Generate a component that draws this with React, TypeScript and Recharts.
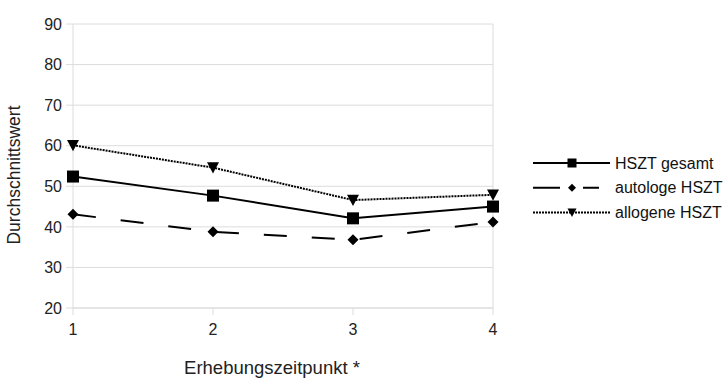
import { LineChart, Line, XAxis, YAxis, CartesianGrid, ReferenceLine } from "recharts";

const timepoints = [1, 2, 3, 4];
const gesamt = [52.4, 47.7, 42.1, 45.0];
const autologe = [43.1, 38.8, 36.8, 41.2];
const allogene = [60.1, 54.6, 46.6, 47.9];
const yTicks = [20, 30, 40, 50, 60, 70, 80, 90];

const seriesNames = ["HSZT gesamt", "autologe HSZT", "allogene HSZT"];

const data = timepoints.map((t, i) => ({
  t,
  gesamt: gesamt[i],
  autologe: autologe[i],
  allogene: allogene[i],
}));

const FONT = "'Liberation Sans', Arial, sans-serif";

type Shape = "square" | "diamond" | "triangle";

function marker(shape: Shape, cx: number, cy: number, s: number, key?: string) {
  if (shape === "square")
    return <rect key={key} x={cx - s / 2} y={cy - s / 2} width={s} height={s} fill="#000" />;
  if (shape === "diamond")
    return (
      <polygon
        key={key}
        points={`${cx},${cy - s / 2} ${cx + s / 2},${cy} ${cx},${cy + s / 2} ${cx - s / 2},${cy}`}
        fill="#000"
      />
    );
  return (
    <polygon
      key={key}
      points={`${cx - s / 2},${cy - s * 0.45} ${cx + s / 2},${cy - s * 0.45} ${cx},${cy + s * 0.5}`}
      fill="#000"
    />
  );
}

const dotFor = (shape: Shape, size: number) => (p: any) =>
  marker(shape, p.cx, p.cy, size, `${shape}-${p.index}`);

const legendItems: { name: string; shape: Shape; dash?: string; size: number }[] = [
  { name: seriesNames[0], shape: "square", size: 9 },
  { name: seriesNames[1], shape: "diamond", dash: "27 12", size: 8 },
  { name: seriesNames[2], shape: "triangle", dash: "2 1", size: 9 },
];

function MyLegend() {
  return (
    <svg width={195} height={80} style={{ position: "absolute", left: 533, top: 153 }}>
      {legendItems.map((it, i) => {
        const y = 10 + i * 24.8;
        return (
          <g key={it.name}>
            <line x1={0} x2={77} y1={y} y2={y} stroke="#000" strokeWidth={2} strokeDasharray={it.dash} />
            {it.shape === "diamond" && <rect x={27} y={y - 6} width={23} height={12} fill="#fff" />}
            {marker(it.shape, 39, y, it.size)}
            <text x={82} y={y} dy="0.355em" fontFamily={FONT} fontSize={16} fill="#111">
              {it.name}
            </text>
          </g>
        );
      })}
    </svg>
  );
}

export default function App() {
  return (
    <div style={{ position: "absolute", left: 0, top: 0, width: 728, height: 390, background: "#fff" }}>
      <LineChart width={728} height={390} data={data} margin={{ top: 24, right: 235, bottom: 52, left: 13 }}>
        <CartesianGrid vertical={false} stroke="#dcdcdc" strokeWidth={1} />
        <ReferenceLine x={4} stroke="#dcdcdc" strokeWidth={1} />
        <XAxis
          dataKey="t"
          type="number"
          domain={[1, 4]}
          ticks={timepoints}
          height={30}
          axisLine={{ stroke: "#dcdcdc" }}
          tickLine={{ stroke: "#dcdcdc" }}
          tickSize={7}
          tickMargin={9}
          tick={{ fontFamily: FONT, fontSize: 16, fill: "#222" }}
        />
        <YAxis
          type="number"
          domain={[20, 90]}
          ticks={yTicks}
          width={60}
          interval={0}
          axisLine={{ stroke: "#dcdcdc" }}
          tickLine={{ stroke: "#dcdcdc" }}
          tickSize={7}
          tickMargin={4}
          tick={{ fontFamily: FONT, fontSize: 16, fill: "#222" }}
        />
        <Line
          dataKey="allogene"
          name={seriesNames[2]}
          stroke="#000"
          strokeWidth={2}
          strokeDasharray="2 1"
          dot={dotFor("triangle", 12)}
          isAnimationActive={false}
        />
        <Line
          dataKey="autologe"
          name={seriesNames[1]}
          stroke="#000"
          strokeWidth={2}
          strokeDasharray="23 25"
          dot={dotFor("diamond", 11)}
          isAnimationActive={false}
        />
        <Line
          dataKey="gesamt"
          name={seriesNames[0]}
          stroke="#000"
          strokeWidth={2}
          dot={dotFor("square", 12)}
          isAnimationActive={false}
        />
      </LineChart>
      <svg width={728} height={390} style={{ position: "absolute", left: 0, top: 0, pointerEvents: "none" }}>
        <text x={272} y={374} textAnchor="middle" fontFamily={FONT} fontSize={18.5} fill="#222">
          Erhebungszeitpunkt *
        </text>
        <text
          x={20}
          y={175}
          textAnchor="middle"
          transform="rotate(-90 20 175)"
          fontFamily={FONT}
          fontSize={17.5}
          fill="#222"
        >
          Durchschnittswert
        </text>
      </svg>
      <MyLegend />
    </div>
  );
}
